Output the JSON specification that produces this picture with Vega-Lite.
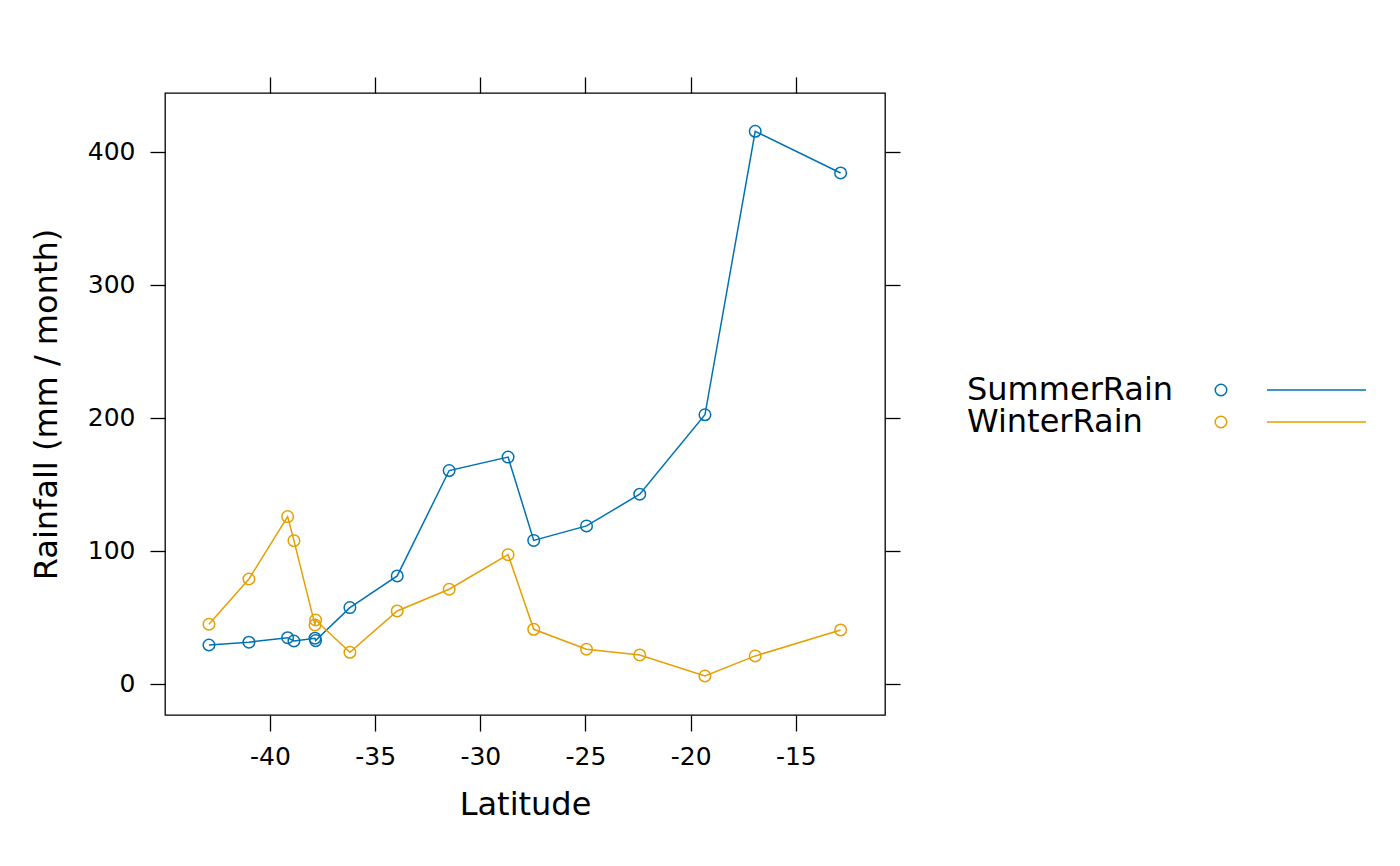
{
  "$schema": "https://vega.github.io/schema/vega-lite/v6.json",
  "autosize": {"type": "none"},
  "padding": {"left": 165, "top": 93, "right": 515, "bottom": 151},
  "width": 720,
  "height": 622,
  "background": "white",
  "config": {
    "font": "DejaVu Sans",
    "view": {"stroke": "black", "strokeWidth": 1.3},
    "axis": {
      "grid": false,
      "domain": false,
      "tickColor": "black",
      "tickWidth": 1.3,
      "tickSize": 16,
      "labelColor": "black",
      "labelFont": "DejaVu Sans",
      "labelFontSize": 25,
      "titleFont": "DejaVu Sans",
      "titleFontSize": 32,
      "titleFontWeight": "normal",
      "titleColor": "black"
    },
    "legend": {"labelFont": "DejaVu Sans", "labelFontSize": 32, "labelColor": "black", "padding": 0, "labelLimit": 0}
  },
  "data": {
    "values": [
      {"lat": -42.90, "series": "SummerRain", "rain": 29.3},
      {"lat": -41.00, "series": "SummerRain", "rain": 31.4},
      {"lat": -39.16, "series": "SummerRain", "rain": 34.8},
      {"lat": -38.86, "series": "SummerRain", "rain": 32.3},
      {"lat": -37.86, "series": "SummerRain", "rain": 34.4},
      {"lat": -37.83, "series": "SummerRain", "rain": 32.6},
      {"lat": -36.20, "series": "SummerRain", "rain": 57.4},
      {"lat": -33.95, "series": "SummerRain", "rain": 81.2},
      {"lat": -31.48, "series": "SummerRain", "rain": 160.4},
      {"lat": -28.68, "series": "SummerRain", "rain": 170.5},
      {"lat": -27.46, "series": "SummerRain", "rain": 107.9},
      {"lat": -24.95, "series": "SummerRain", "rain": 118.8},
      {"lat": -22.42, "series": "SummerRain", "rain": 142.6},
      {"lat": -19.32, "series": "SummerRain", "rain": 202.3},
      {"lat": -16.93, "series": "SummerRain", "rain": 415.3},
      {"lat": -12.87, "series": "SummerRain", "rain": 384.0},
      {"lat": -42.90, "series": "WinterRain", "rain": 44.9},
      {"lat": -41.00, "series": "WinterRain", "rain": 78.9},
      {"lat": -39.16, "series": "WinterRain", "rain": 125.8},
      {"lat": -38.86, "series": "WinterRain", "rain": 107.7},
      {"lat": -37.86, "series": "WinterRain", "rain": 44.4},
      {"lat": -37.83, "series": "WinterRain", "rain": 48.1},
      {"lat": -36.20, "series": "WinterRain", "rain": 23.8},
      {"lat": -33.95, "series": "WinterRain", "rain": 54.9},
      {"lat": -31.48, "series": "WinterRain", "rain": 71.2},
      {"lat": -28.68, "series": "WinterRain", "rain": 97.2},
      {"lat": -27.46, "series": "WinterRain", "rain": 41.1},
      {"lat": -24.95, "series": "WinterRain", "rain": 26.1},
      {"lat": -22.42, "series": "WinterRain", "rain": 21.8},
      {"lat": -19.32, "series": "WinterRain", "rain": 6.0},
      {"lat": -16.93, "series": "WinterRain", "rain": 21.1},
      {"lat": -12.87, "series": "WinterRain", "rain": 40.6}
    ]
  },
  "layer": [
    {
      "mark": {"type": "line", "strokeWidth": 1.5},
      "encoding": {
        "x": {
          "field": "lat", "type": "quantitative",
          "scale": {"domain": [-44.99, -10.76], "nice": false, "zero": false},
          "axis": {"orient": "bottom", "title": "Latitude", "values": [-40, -35, -30, -25, -20, -15], "labelExpr": "'' + datum.value", "labelPadding": 13, "titlePadding": 20}
        },
        "y": {
          "field": "rain", "type": "quantitative",
          "scale": {"domain": [-23.3, 444.1], "nice": false, "zero": false},
          "axis": {"orient": "left", "title": "Rainfall (mm / month)", "values": [0, 100, 200, 300, 400], "labelExpr": "'' + datum.value", "tickSize": 15, "labelPadding": 15, "titlePadding": 24}
        },
        "color": {
          "field": "series", "type": "nominal",
          "scale": {"domain": ["SummerRain", "WinterRain"], "range": ["#0072B2", "#E69F00"]},
          "legend": {
            "orient": "none", "legendX": 1135.5, "legendY": 281,
            "title": null, "symbolType": "M-9.9,0H9.9", "symbolSize": 100, "symbolStrokeWidth": 1.5,
            "labelExpr": "''", "rowPadding": -1
          }
        }
      }
    },
    {
      "mark": {"type": "point", "filled": false, "shape": "circle", "size": 133, "strokeWidth": 1.5, "opacity": 1},
      "encoding": {
        "x": {
          "field": "lat", "type": "quantitative",
          "scale": {"domain": [-44.99, -10.76], "nice": false, "zero": false},
          "axis": {"orient": "top", "title": null, "labels": false, "values": [-40, -35, -30, -25, -20, -15]}
        },
        "y": {
          "field": "rain", "type": "quantitative",
          "scale": {"domain": [-23.3, 444.1], "nice": false, "zero": false},
          "axis": {"orient": "right", "title": null, "labels": false, "tickSize": 15, "values": [0, 100, 200, 300, 400]}
        },
        "color": {
          "field": "series", "type": "nominal",
          "scale": {"domain": ["SummerRain", "WinterRain"], "range": ["#0072B2", "#E69F00"]},
          "legend": {
            "orient": "none", "legendX": 1040, "legendY": 281,
            "title": null, "symbolType": "circle", "symbolSize": 133, "symbolStrokeWidth": 1.5,
            "symbolFillColor": "transparent",
            "labelAlign": "left", "labelOffset": -270, "rowPadding": -1
          }
        }
      }
    }
  ],
  "resolve": {"scale": {"color": "independent"}, "axis": {"x": "independent", "y": "independent"}}
}
